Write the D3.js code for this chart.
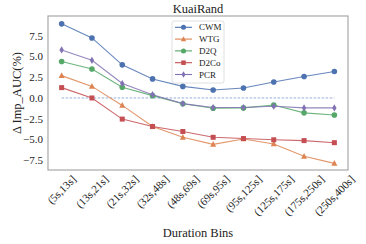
<!DOCTYPE html>
<html>
<head>
<meta charset="utf-8">
<script src="https://cdn.jsdelivr.net/npm/d3@7"></script>
<style>
body { margin: 0; background: #fff; }
text { font-family: "Liberation Serif", "DejaVu Serif", serif; fill: #222; }
</style>
</head>
<body>
<svg id="chart" width="366" height="244"></svg>
<script>
// bins along the x axis
var bins = ["(5s,13s]", "(13s,21s]", "(21s,32s]", "(32s,48s]", "(48s,69s]",
	"(69s,95s]", "(95s,125s]", "(125s,175s]", "(175s,250s]", "(250s,400s]"];

var cwm  = [8.95, 7.25, 4.0, 2.3, 1.4, 0.97, 1.2, 1.93, 2.6, 3.2];
var wtg  = [2.7, 1.4, -0.9, -3.45, -4.75, -5.6, -4.95, -5.55, -7.05, -7.9];
var d2q  = [4.4, 3.5, 1.3, 0.28, -0.7, -1.25, -1.2, -0.85, -1.8, -2.05];
var d2co = [1.25, 0.0, -2.55, -3.45, -4.05, -4.75, -4.9, -5.05, -5.15, -5.4];
var pcr  = [5.8, 4.55, 1.75, 0.4, -0.68, -1.15, -1.15, -1.0, -1.2, -1.2];

var yTicks = [-7.5, -5.0, -2.5, 0.0, 2.5, 5.0, 7.5];

var series = [
	{ name: "CWM", values: cwm, color: "#4c72b0", marker: "circle" },
	{ name: "WTG", values: wtg, color: "#dd8452", marker: "triangle" },
	{ name: "D2Q", values: d2q, color: "#55a868", marker: "circle" },
	{ name: "D2Co", values: d2co, color: "#c44e52", marker: "square" },
	{ name: "PCR", values: pcr, color: "#8172b3", marker: "diamond" }
];

var PLOT_LEFT = 48, PLOT_RIGHT = 348, PLOT_TOP = 16, PLOT_BOTTOM = 170;

var svg = d3.select("#chart");

var x = d3.scalePoint()
	.domain(bins)
	.range([PLOT_LEFT, PLOT_RIGHT])
	.padding(0.45);

var y = d3.scaleLinear()
	.domain([-8.7, 9.9])
	.range([PLOT_BOTTOM, PLOT_TOP]);

// frame
svg.append("rect")
	.attr("x", PLOT_LEFT)
	.attr("y", PLOT_TOP)
	.attr("width", PLOT_RIGHT - PLOT_LEFT)
	.attr("height", PLOT_BOTTOM - PLOT_TOP)
	.style("fill", "none")
	.style("stroke", "#a8a8a8")
	.style("stroke-width", 1.2);

// y tick labels
svg.selectAll(".ytick")
	.data(yTicks)
	.enter()
	.append("text")
	.attr("class", "ytick")
	.attr("x", PLOT_LEFT - 5)
	.attr("y", function(d) { return y(d); })
	.attr("dy", "0.35em")
	.style("text-anchor", "end")
	.style("font-size", "11px")
	.text(function(d) { return d3.format(".1f")(d).replace("-", "\u2212"); });

// x tick labels, rotated 45, centred on the tick
svg.selectAll(".xtick")
	.data(bins)
	.enter()
	.append("text")
	.attr("class", "xtick")
	.style("font-size", "11px")
	.style("text-anchor", "middle")
	.attr("dominant-baseline", "central")
	.text(function(d) { return d; })
	.each(function(d) {
		var len = this.getComputedTextLength();
		var h = 9;
		var cy = PLOT_BOTTOM + 4 + (len + h) * Math.SQRT1_2 / 2;
		var cx = x(d);
		d3.select(this)
			.attr("x", cx)
			.attr("y", cy)
			.attr("transform", "rotate(-45," + cx + "," + cy + ")");
	});

// zero reference
svg.append("line")
	.attr("x1", x(bins[0]))
	.attr("x2", x(bins[bins.length - 1]))
	.attr("y1", y(0))
	.attr("y2", y(0))
	.style("stroke", "#7f9dd0")
	.style("stroke-width", 1)
	.style("stroke-dasharray", "2.5,1.5")
	.style("opacity", 0.8);

var line = d3.line()
	.x(function(d, i) { return x(bins[i]); })
	.y(function(d) { return y(d); });

var draw_marker = function(g, type, color, size) {
	var s = size || 1;
	if (type == "circle") {
		g.append("circle").attr("r", 2.8 * s).style("fill", color);
	} else if (type == "square") {
		g.append("rect").attr("x", -2.5 * s).attr("y", -2.5 * s)
			.attr("width", 5 * s).attr("height", 5 * s).style("fill", color);
	} else if (type == "triangle") {
		g.append("path").attr("d", "M0," + (-3.3 * s) + "L" + (3 * s) + "," + (2.4 * s) + "L" + (-3 * s) + "," + (2.4 * s) + "Z")
			.style("fill", color);
	} else if (type == "diamond") {
		g.append("path").attr("d", "M0," + (-3.6 * s) + "L" + (2.2 * s) + ",0L0," + (3.6 * s) + "L" + (-2.2 * s) + ",0Z")
			.style("fill", color);
	}
};

series.forEach(function(s) {
	svg.append("path")
		.attr("d", line(s.values))
		.style("fill", "none")
		.style("stroke", s.color)
		.style("stroke-width", 1.1)
		.style("opacity", 0.85);

	svg.selectAll(".pt-" + s.name)
		.data(s.values)
		.enter()
		.append("g")
		.attr("transform", function(d, i) {
			return "translate(" + x(bins[i]) + "," + y(d) + ")";
		})
		.each(function() { draw_marker(d3.select(this), s.marker, s.color); });
});

// legend
var legend = svg.append("g").attr("transform", "translate(172,21)");

legend.append("rect")
	.attr("width", 52)
	.attr("height", 62)
	.attr("rx", 2)
	.style("fill", "#fff")
	.style("fill-opacity", 0.85)
	.style("stroke", "#d8d8d8")
	.style("stroke-width", 0.8);

series.forEach(function(s, i) {
	var row = legend.append("g").attr("transform", "translate(0," + (6.3 + i * 11.8) + ")");
	row.append("line")
		.attr("x1", 3).attr("x2", 20)
		.style("stroke", s.color)
		.style("stroke-width", 1.1);
	var m = row.append("g").attr("transform", "translate(11.5,0)");
	draw_marker(m, s.marker, s.color, 0.9);
	row.append("text")
		.attr("x", 27)
		.attr("dy", "0.35em")
		.style("font-size", "9px")
		.text(s.name);
});

// title and axis labels
svg.append("text")
	.attr("x", (PLOT_LEFT + PLOT_RIGHT) / 2)
	.attr("y", 13)
	.style("text-anchor", "middle")
	.style("font-size", "12.5px")
	.text("KuaiRand");

svg.append("text")
	.attr("x", (PLOT_LEFT + PLOT_RIGHT) / 2)
	.attr("y", 237)
	.style("text-anchor", "middle")
	.style("font-size", "12.5px")
	.text("Duration Bins");

svg.append("text")
	.attr("transform", "translate(21," + ((PLOT_TOP + PLOT_BOTTOM) / 2) + ") rotate(-90)")
	.style("text-anchor", "middle")
	.style("font-size", "12.5px")
	.text("\u0394 Imp_AUC(%)");
</script>
</body>
</html>
